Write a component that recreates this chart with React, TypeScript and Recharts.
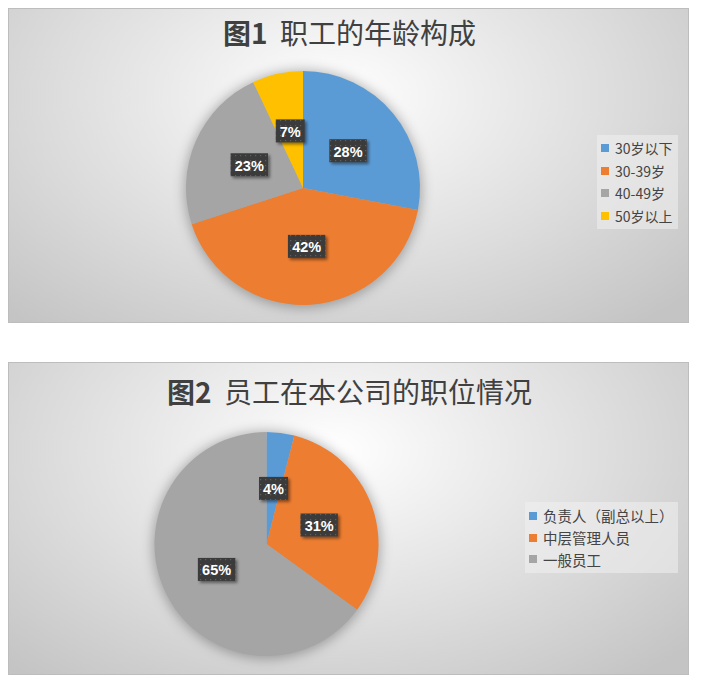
import React from 'react';
import { PieChart, Pie, Cell, Legend } from 'recharts';

const ageCategories = ['30岁以下', '30-39岁', '40-49岁', '50岁以上'];
const ageValues = [28, 42, 23, 7];
const ageColors = ['#5B9BD5', '#ED7D31', '#A5A5A5', '#FFC000'];

const posCategories = ['负责人（副总以上）', '中层管理人员', '一般员工'];
const posValues = [4, 31, 65];
const posColors = ['#5B9BD5', '#ED7D31', '#A5A5A5'];

const title1Bold = '图1';
const title1Rest = '职工的年龄构成';
const title2Bold = '图2';
const title2Rest = '员工在本公司的职位情况';

const ageData = ageCategories.map((name, i) => ({ name, value: ageValues[i] }));
const posData = posCategories.map((name, i) => ({ name, value: posValues[i] }));

const RAD = Math.PI / 180;
const CJK = '"Noto Sans CJK SC", "Noto Sans", sans-serif';
const NOMARGIN = { top: 0, right: 0, bottom: 0, left: 0 };

const renderLabel = (props: any) => {
  const { cx, cy, midAngle, outerRadius, percent } = props;
  const r = outerRadius * 0.5;
  const x = cx + r * Math.cos(-midAngle * RAD);
  const y = cy + r * Math.sin(-midAngle * RAD);
  const text = `${Math.round(percent * 100)}%`;
  const w = text.length * 8.5 + 12;
  const h = 23;
  return (
    <g>
      <rect x={x - w / 2} y={y - h / 2} width={w} height={h} fill="url(#dotPat)" filter="url(#lblShadow)" />
      <text
        x={x}
        y={y + 1}
        textAnchor="middle"
        dominantBaseline="central"
        fill="#ffffff"
        fontWeight="bold"
        fontSize={14.5}
        fontFamily='"Liberation Sans", Arial, sans-serif'
      >
        {text}
      </text>
    </g>
  );
};

const makeLegend = (names: string[], colors: string[], width: number, padTop: number, rowH: number, fs: number) => () =>
  (
    <div
      style={{
        width,
        boxSizing: 'border-box',
        background: 'rgba(240,240,240,0.55)',
        paddingTop: padTop,
        paddingBottom: padTop,
      }}
    >
      {names.map((n, i) => (
        <div
          key={n}
          style={{
            height: rowH,
            display: 'flex',
            alignItems: 'center',
            paddingLeft: 4,
            fontFamily: CJK,
            fontSize: fs,
            color: '#444',
            whiteSpace: 'nowrap',
          }}
        >
          <span style={{ width: 8, height: 8, background: colors[i], display: 'inline-block', marginRight: 6 }} />
          <span>{n}</span>
        </div>
      ))}
    </div>
  );

const boxStyle: React.CSSProperties = {
  position: 'absolute',
  left: 0,
  width: 681,
  boxSizing: 'border-box',
  border: '1px solid #bdbdbd',
  background:
    'radial-gradient(ellipse 70% 95% at 48% 28%, #ffffff 0%, #f0f0f0 25%, #dcdcdc 60%, #c4c4c4 100%)',
  overflow: 'hidden',
};

const Title = ({ bold, rest, top }: { bold: string; rest: string; top: number }) => (
  <div
    style={{
      position: 'absolute',
      left: 0,
      width: 681,
      top,
      textAlign: 'center',
      fontFamily: CJK,
      fontSize: 28,
      lineHeight: '32px',
      color: '#404040',
      whiteSpace: 'pre',
    }}
  >
    <span style={{ fontWeight: 'bold' }}>{bold}</span>
    <span>{'  ' + rest}</span>
  </div>
);

export default function App() {
  return (
    <div style={{ position: 'relative', width: 688, height: 670 }}>
      <svg width={0} height={0} style={{ position: 'absolute' }}>
        <defs>
          <pattern id="dotPat" patternUnits="userSpaceOnUse" width={5} height={5}>
            <rect width={5} height={5} fill="#3b3b3b" />
            <rect x={2} y={2} width={1.2} height={1.2} fill="#5e5e5e" />
          </pattern>
          <filter id="lblShadow" x="-30%" y="-30%" width="170%" height="170%">
            <feDropShadow dx={2} dy={2} stdDeviation={1.5} floodColor="#000" floodOpacity={0.45} />
          </filter>
          <filter id="pieGlow" x="-20%" y="-20%" width="140%" height="140%">
            <feGaussianBlur stdDeviation={6} />
          </filter>
        </defs>
      </svg>
      <div style={{ position: 'absolute', left: -8, top: -8, width: 704, height: 8, background: '#f3f4f6' }} />
      <div
        style={{
          position: 'absolute',
          left: -8,
          top: -8,
          width: 11,
          height: 3,
          borderLeft: '1px solid #555',
          borderRight: '1px solid #555',
          borderBottom: '1px solid #555',
        }}
      />

      <div style={{ ...boxStyle, top: 0, height: 315 }}>
        <Title bold={title1Bold} rest={title1Rest} top={7} />
        <PieChart width={681} height={315} margin={NOMARGIN} style={{ position: 'absolute', left: -1, top: -1 }}>
          <Pie
            data={[{ name: 'shadow', value: 1 }]}
            dataKey="value"
            cx={295}
            cy={181}
            outerRadius={119}
            startAngle={90}
            endAngle={-270}
            isAnimationActive={false}
            stroke="none"
            legendType="none"
          >
            <Cell fill="#000" fillOpacity={0.28} filter="url(#pieGlow)" />
          </Pie>
          <Pie
            data={ageData}
            dataKey="value"
            nameKey="name"
            cx={295}
            cy={180}
            outerRadius={117}
            startAngle={90}
            endAngle={-270}
            isAnimationActive={false}
            stroke="none"
            labelLine={false}
            label={renderLabel}
          >
            {ageData.map((d, i) => (
              <Cell key={d.name} fill={ageColors[i]} />
            ))}
          </Pie>
          <Legend
            layout="vertical"
            wrapperStyle={{ position: 'absolute', left: 589, top: 127, width: 81 }}
            content={makeLegend(ageCategories, ageColors, 81, 2, 22.5, 14)}
          />
        </PieChart>
      </div>

      <div style={{ ...boxStyle, top: 354, height: 313 }}>
        <Title bold={title2Bold} rest={title2Rest} top={12} />
        <PieChart width={681} height={313} margin={NOMARGIN} style={{ position: 'absolute', left: -1, top: -1 }}>
          <Pie
            data={[{ name: 'shadow', value: 1 }]}
            dataKey="value"
            cx={258.5}
            cy={183}
            outerRadius={114}
            startAngle={90}
            endAngle={-270}
            isAnimationActive={false}
            stroke="none"
            legendType="none"
          >
            <Cell fill="#000" fillOpacity={0.28} filter="url(#pieGlow)" />
          </Pie>
          <Pie
            data={posData}
            dataKey="value"
            nameKey="name"
            cx={258.5}
            cy={182}
            outerRadius={112}
            startAngle={90}
            endAngle={-270}
            isAnimationActive={false}
            stroke="none"
            labelLine={false}
            label={renderLabel}
          >
            {posData.map((d, i) => (
              <Cell key={d.name} fill={posColors[i]} />
            ))}
          </Pie>
          <Legend
            layout="vertical"
            wrapperStyle={{ position: 'absolute', left: 517, top: 140, width: 153 }}
            content={makeLegend(posCategories, posColors, 153, 3, 21.7, 14.5)}
          />
        </PieChart>
      </div>
    </div>
  );
}
